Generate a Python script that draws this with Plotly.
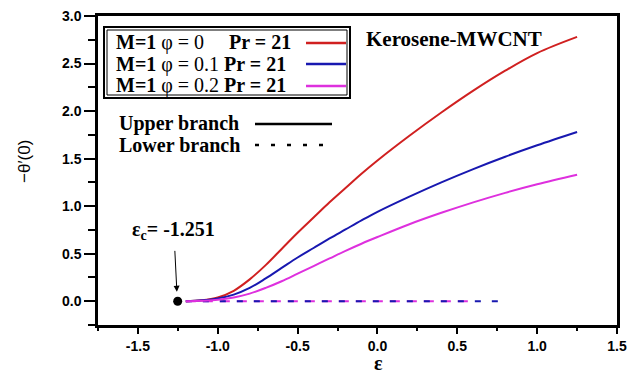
import plotly.graph_objects as go

# Upper-branch solutions: -theta'(0) against epsilon
eps = [-1.2, -1.1, -1.0, -0.9, -0.8, -0.7, -0.6, -0.5, -0.4, -0.3, -0.2, -0.1,
       0.0, 0.2, 0.4, 0.6, 0.8, 1.0, 1.25]
upper_phi0 = [0.0, 0.01, 0.04, 0.11, 0.23, 0.38, 0.55, 0.72, 0.88, 1.04, 1.19, 1.34,
              1.48, 1.74, 1.985, 2.215, 2.425, 2.61, 2.78]
upper_phi01 = [0.0, 0.01, 0.03, 0.07, 0.14, 0.24, 0.35, 0.46, 0.56, 0.66, 0.755, 0.85,
               0.94, 1.10, 1.25, 1.39, 1.52, 1.64, 1.78]
upper_phi02 = [0.0, 0.005, 0.015, 0.04, 0.08, 0.14, 0.21, 0.29, 0.37, 0.45, 0.53, 0.605,
               0.675, 0.81, 0.93, 1.04, 1.14, 1.23, 1.33]

# Lower-branch solutions (stay at zero)
lower_eps_phi01 = [-1.2, 0.82]
lower_phi01 = [0.0, 0.0]
lower_eps_phi02 = [-1.2, 0.58]
lower_phi02 = [0.0, 0.0]

# Critical point
eps_c = [-1.251]
theta_c = [0.0]

# Tick labels
x_ticks = [-1.5, -1.0, -0.5, 0.0, 0.5, 1.0, 1.5]
x_labels = ["-1.5", "-1.0", "-0.5", "0.0", "0.5", "1.0", "1.5"]
y_ticks = [0.0, 0.5, 1.0, 1.5, 2.0, 2.5, 3.0]
y_labels = ["0.0", "0.5", "1.0", "1.5", "2.0", "2.5", "3.0"]

RED = "rgb(208,32,32)"
BLUE = "rgb(24,24,176)"
MAGENTA = "rgb(222,48,222)"
SERIF = "Liberation Serif"
SANS = "Liberation Sans"

fig = go.Figure()
fig.add_trace(go.Scatter(x=lower_eps_phi02, y=lower_phi02, mode="lines",
                         line=dict(color=MAGENTA, width=2, dash="10px,7px")))
fig.add_trace(go.Scatter(x=lower_eps_phi01, y=lower_phi01, mode="lines",
                         line=dict(color=BLUE, width=2, dash="6px,11px")))
fig.add_trace(go.Scatter(x=eps, y=upper_phi0, mode="lines",
                         line=dict(color=RED, width=2, shape="spline")))
fig.add_trace(go.Scatter(x=eps, y=upper_phi01, mode="lines",
                         line=dict(color=BLUE, width=2, shape="spline")))
fig.add_trace(go.Scatter(x=eps, y=upper_phi02, mode="lines",
                         line=dict(color=MAGENTA, width=2, shape="spline")))
fig.add_trace(go.Scatter(x=eps_c, y=theta_c, mode="markers",
                         marker=dict(color="black", size=9)))

axis_common = dict(
    showline=True, linecolor="black", linewidth=2.5, mirror=True,
    ticks="outside", tickwidth=1.5, tickcolor="black",
    showgrid=False, zeroline=False, automargin=False,
    tickfont=dict(family=SANS, size=14, color="black"),
)

fig.update_xaxes(range=[-1.75, 1.5], tickvals=x_ticks, ticklen=6,
                 ticktext=["<b>%s</b>" % t for t in x_labels],
                 minor=dict(dtick=0.25, ticks="outside", ticklen=3, tickcolor="black"),
                 **axis_common)
fig.update_yaxes(range=[-0.25, 3.0], tickvals=y_ticks, ticklen=11,
                 ticktext=["<b>%s</b>" % t for t in y_labels],
                 minor=dict(dtick=0.25, ticks="outside", ticklen=7, tickcolor="black"),
                 **axis_common)


def px(x):
    return (x - 98) / 519


def py(y):
    return (325 - y) / 309


annotations = []
shapes = []

# Axis titles
annotations.append(dict(xref="paper", yref="paper", x=px(378), y=py(363),
                        xanchor="center", yanchor="middle", showarrow=False,
                        text="<b>ε</b>", font=dict(family=SERIF, size=20, color="black")))
annotations.append(dict(xref="paper", yref="paper", x=px(24), y=py(162),
                        xanchor="center", yanchor="middle", showarrow=False, textangle=-90,
                        text="−θ′(0)", font=dict(family=SANS, size=17, color="black")))

# Legend box (double border) with line samples on the right
shapes.append(dict(type="rect", xref="paper", yref="paper",
                   x0=px(104), x1=px(350), y0=py(98), y1=py(27),
                   line=dict(color="black", width=2)))
shapes.append(dict(type="rect", xref="paper", yref="paper",
                   x0=px(107), x1=px(347), y0=py(95), y1=py(30),
                   line=dict(color="black", width=1)))
legend_rows = [("<b>M=1</b> φ = 0&nbsp;&nbsp;&nbsp;&nbsp;&nbsp;<b>Pr = 21</b>", RED, 43),
               ("<b>M=1</b> φ = 0.1 <b>Pr = 21</b>", BLUE, 64),
               ("<b>M=1</b> φ = 0.2 <b>Pr = 21</b>", MAGENTA, 86)]
for text, color, yy in legend_rows:
    annotations.append(dict(xref="paper", yref="paper", x=px(114), y=py(yy),
                            xanchor="left", yanchor="middle", showarrow=False,
                            text=text, font=dict(family=SERIF, size=20, color="black")))
    shapes.append(dict(type="line", xref="paper", yref="paper",
                       x0=px(306), x1=px(346), y0=py(yy), y1=py(yy),
                       line=dict(color=color, width=2.5)))

# Branch key
for text, dash, yy in [("Upper branch", "solid", 124), ("Lower branch", "4px,12px", 145)]:
    annotations.append(dict(xref="paper", yref="paper", x=px(117), y=py(yy),
                            xanchor="left", yanchor="middle", showarrow=False,
                            text="<b>" + text + "</b>",
                            font=dict(family=SERIF, size=20, color="black")))
    shapes.append(dict(type="line", xref="paper", yref="paper",
                       x0=px(255), x1=px(332), y0=py(yy), y1=py(yy),
                       line=dict(color="black", width=2.5, dash=dash)))

annotations.append(dict(xref="paper", yref="paper", x=px(364), y=py(39),
                        xanchor="left", yanchor="middle", showarrow=False,
                        text="<b>Kerosene-MWCNT</b>",
                        font=dict(family=SERIF, size=21, color="black")))

# Critical-point label with arrow pointing at the turning point
annotations.append(dict(x=eps_c[0] - 0.005, y=theta_c[0] + 0.1, xref="x", yref="y",
                        ax=-1.275, ay=0.74, axref="x", ayref="y",
                        showarrow=True, arrowhead=2, arrowsize=1.2, arrowwidth=1,
                        arrowcolor="black", standoff=0, startstandoff=6,
                        text="<b>ε<sub>c</sub>= -1.251</b>",
                        font=dict(family=SERIF, size=20, color="black")))

fig.update_layout(
    width=639, height=373,
    margin=dict(l=98, r=22, t=16, b=48, autoexpand=False),
    paper_bgcolor="white", plot_bgcolor="white",
    showlegend=False,
    annotations=annotations, shapes=shapes,
)

fig.write_html("out.html")
